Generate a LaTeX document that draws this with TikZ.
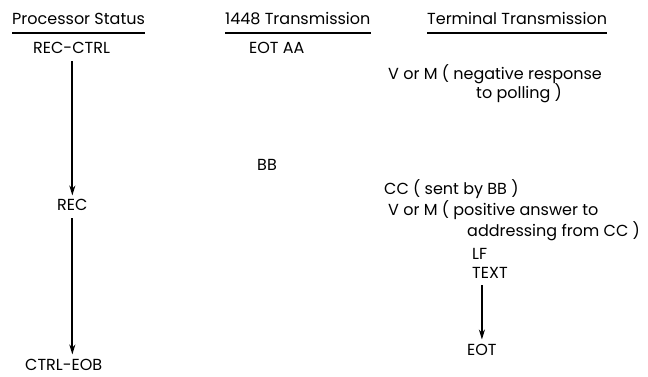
\documentclass[tikz,border=0pt]{standalone}
\usepackage{fontspec}
\setmainfont{Poppins}
\usetikzlibrary{arrows.meta,positioning}

\begin{document}
\begin{tikzpicture}[x=1pt, y=-1pt,
    every node/.style={font=\fontsize{16}{18}\selectfont, inner sep=0pt},
    lbl/.style={anchor=base west},
    uline/.style={line width=1.2pt},
    flow/.style={-{Stealth[length=10pt, width=6pt]}, line width=2pt, shorten <=7pt, shorten >=4pt}]
    \useasboundingbox (0,0) rectangle (648,377);
    % column heads
    \node[lbl] (ps) at (12,25) {Processor Status};
    \node[lbl] (tx) at (225,25) {1448 Transmission};
    \node[lbl] (tt) at (427,25) {Terminal Transmission};
    \draw[uline] ([yshift=-8pt]ps.base west) -- ([yshift=-8pt]ps.base east);
    \draw[uline] ([yshift=-8pt]tx.base west) -- ([yshift=-8pt]tx.base east);
    \draw[uline] ([yshift=-8pt]tt.base west) -- ([yshift=-8pt]tt.base east);
    % processor status
    \node[lbl] (rc) at (33,54) {REC-CTRL};
    \node[lbl] (rec) at (57,211) {REC};
    \node[lbl] (ce) at (25,370) {CTRL-EOB};
    % 1448 transmission
    \node[lbl] (eotaa) at (249,54) {EOT AA};
    \node[lbl] (bb) at (257,171) {BB};
    % terminal transmission
    \node[lbl] (neg) at (388,80) {V or M ( negative response};
    \node[lbl] (negb) at (476,99) {to polling )};
    \node[lbl] (cc) at (384,194) {CC ( sent by BB )};
    \node[lbl] (pos) at (388,215) {V or M ( positive answer to};
    \node[lbl] (posb) at (467,236) {addressing from CC )};
    \node[lbl] (lf) at (472,259) {LF};
    \node[lbl] (text) at (472,278) {TEXT};
    \node[lbl] (eot) at (467,355) {EOT};
    \draw[flow] (rc.south -| rec.north) -- (rec.north);
    \draw[flow] (rec.south) -- (rec.south |- ce.north);
    \draw[flow] (text.south -| eot.north) -- (eot.north);
\end{tikzpicture}
\end{document}
